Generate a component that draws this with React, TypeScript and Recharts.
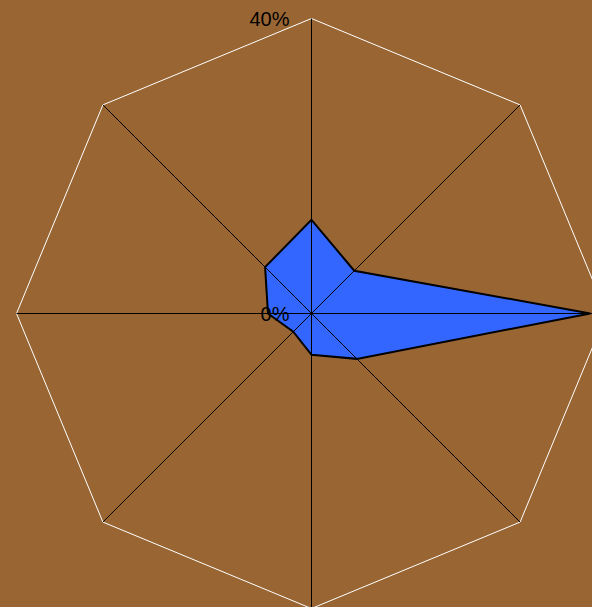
import { RadarChart, Radar, PolarGrid, PolarAngleAxis, PolarRadiusAxis } from 'recharts';

const directions = ['N', 'NE', 'E', 'SE', 'S', 'SW', 'W', 'NW'];
const shares = [12.7, 8.2, 37.8, 8.7, 5.6, 3.5, 5.9, 8.9];
const radiusTicks = [0, 40];

const data = directions.map((d, i) => ({ dir: d, value: shares[i] }));

const RadiusTick = ({ x, y, payload }: any) => (
  <text
    x={x - 22}
    y={y}
    textAnchor="end"
    dominantBaseline="central"
    fontSize={20}
    fontFamily="'Liberation Sans', Arial, sans-serif"
    fill="#000"
  >
    {payload.value}%
  </text>
);

export default function App() {
  // spokes sit on top of the filled area
  const spokeGrid: any = { zIndex: 1500 };
  return (
    <div style={{ position: 'fixed', left: 0, top: 0, width: 592, height: 607, background: '#996633' }}>
      <RadarChart
        width={592}
        height={607}
        data={data}
        cx={311.5}
        cy={313.5}
        outerRadius={295}
        margin={{ top: 0, right: 0, bottom: 0, left: 0 }}
      >
        <PolarGrid gridType="polygon" stroke="#ffffff" strokeWidth={1} radialLines={false} polarRadius={[295]} />
        <PolarAngleAxis dataKey="dir" tick={false} axisLine={false} tickLine={false} />
        <PolarRadiusAxis
          angle={90}
          type="number"
          domain={[0, 40]}
          ticks={radiusTicks}
          tickCount={2}
          axisLine={false}
          tickLine={false}
          tick={<RadiusTick />}
        />
        <Radar
          dataKey="value"
          stroke="#000000"
          strokeWidth={2}
          fill="#3366ff"
          fillOpacity={1}
          isAnimationActive={false}
        />
        <PolarGrid gridType="polygon" stroke="#000000" strokeWidth={1} polarRadius={[0]} {...spokeGrid} />
      </RadarChart>
    </div>
  );
}
